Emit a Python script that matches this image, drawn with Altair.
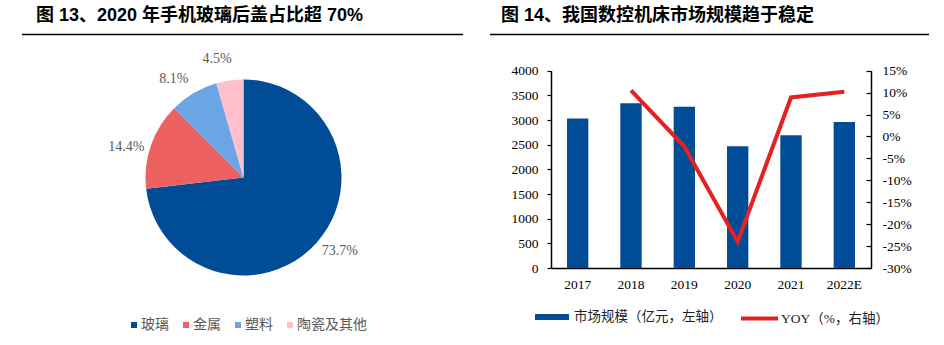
import altair as alt
import pandas as pd

# ---------------- data ----------------
materials = ["玻璃", "金属", "塑料", "陶瓷及其他"]
shares = [73.7, 14.4, 8.1, 4.5]
pie_colors = ["#004C97", "#EE6161", "#6CA5E5", "#FFC0CB"]

years = ["2017", "2018", "2019", "2020", "2021", "2022E"]
market_size = [3030, 3340, 3270, 2470, 2690, 2960]
yoy_years = ["2018", "2019", "2020", "2021", "2022E"]
yoy = [10.5, -2.3, -24.0, 8.9, 10.2]

left_ticks = [0, 500, 1000, 1500, 2000, 2500, 3000, 3500, 4000]
right_ticks = [-30, -25, -20, -15, -10, -5, 0, 5, 10, 15]

title_left = "图 13、2020 年手机玻璃后盖占比超 70%"
title_right = "图 14、我国数控机床市场规模趋于稳定"
bar_name = "市场规模（亿元，左轴）"
line_name = "YOY（%，右轴）"

BLUE = "#004C97"
RED = "#E32222"
SERIF = "Liberation Serif, Noto Sans CJK SC"
TITLE_FONT = "Liberation Sans, Noto Sans CJK SC"

pie_df = pd.DataFrame({"material": materials, "share": shares, "rank": list(range(len(materials)))})
bar_df = pd.DataFrame({"year": years, "market": market_size, "series": [bar_name] * len(years)})
line_df = pd.DataFrame({"year": yoy_years, "yoy": yoy, "series": [line_name] * len(yoy_years)})

# ---------------- pie ----------------
CX, CY = 243.5, 177.5
pie_base = alt.Chart(pie_df).encode(
    theta=alt.Theta("share:Q", stack=True),
    order=alt.Order("rank:Q"),
)
pie = pie_base.mark_arc(outerRadius=98).encode(
    x=alt.value(CX), y=alt.value(CY),
    color=alt.Color(
        "material:N",
        scale=alt.Scale(domain=materials, range=pie_colors),
        legend=alt.Legend(
            orient="none", legendX=124, legendY=318, direction="horizontal", title=None,
            symbolType="square", symbolSize=36, symbolStrokeWidth=0, symbolOffset=3,
            labelFont="Noto Sans CJK SC", labelFontSize=14, labelColor="#595959",
            labelOffset=0, columnPadding=7,
        ),
    ),
)
pie_text = pie_base.mark_text(radius=121, thetaOffset=-0.08, font="Liberation Serif", fontSize=14,
                              color="#595959").encode(
    x=alt.value(CX), y=alt.value(CY), text="label:N"
).transform_calculate(label="format(datum.share, '.1f') + '%'")

# ---------------- bar + line ----------------
X0, X1 = 551, 871
Y0, Y1 = 268, 70.7

xscale = alt.Scale(domain=years, range=[X0, X1], paddingInner=0.6, paddingOuter=0.3)
bars = alt.Chart(bar_df).mark_bar().encode(
    x=alt.X("year:N", sort=years, scale=xscale,
            axis=alt.Axis(orient="bottom", offset=-(345 - Y0), ticks=False, labelPadding=9,
                          labelFont="Liberation Serif", labelFontSize=13.5, labelColor="black",
                          labelAngle=0, domainColor="black", domainWidth=1.5, title=None, grid=False)),
    y=alt.Y("market:Q", scale=alt.Scale(domain=[0, 4000], range=[Y0, Y1], nice=False, zero=True),
            axis=alt.Axis(orient="left", offset=-X0, values=left_ticks, format="d", tickSize=4,
                          tickColor="black", tickWidth=1.2, labelPadding=9, labelFont="Liberation Serif",
                          labelFontSize=13.5, labelColor="black", domainColor="black", domainWidth=1.5,
                          title=None, grid=False)),
    fill=alt.Fill(
        "series:N",
        scale=alt.Scale(domain=[bar_name], range=[BLUE]),
        legend=alt.Legend(
            orient="none", legendX=535, legendY=300, title=None,
            symbolType="M-1,-0.18L1,-0.18L1,0.18L-1,0.18Z", symbolSize=1156, symbolStrokeWidth=0,
            labelFont=SERIF, labelFontSize=13.5, labelColor="#222222", labelOffset=5,
        ),
    ),
)

yscale_r = alt.Scale(domain=[-30, 15], range=[Y0, Y1], nice=False, zero=False)
line = alt.Chart(line_df).mark_line(strokeWidth=4).encode(
    x=alt.X("year:N", sort=years),
    y=alt.Y("yoy:Q", scale=yscale_r,
            axis=alt.Axis(orient="right", offset=-(944 - X1), values=right_ticks, ticks=False,
                          labelExpr="datum.value + '%'", labelPadding=11, labelFont="Liberation Serif",
                          labelFontSize=13.5, labelColor="black", domainColor="black", domainWidth=1.5,
                          title=None, grid=False)),
    stroke=alt.Stroke(
        "series:N",
        scale=alt.Scale(domain=[line_name], range=[RED]),
        legend=alt.Legend(
            orient="none", legendX=739, legendY=298, title=None,
            symbolType="stroke", symbolSize=1369, symbolStrokeWidth=4,
            labelFont=SERIF, labelFontSize=13.5, labelColor="#222222", labelOffset=1,
        ),
    ),
)

# inward ticks of the right axis
rticks = alt.Chart(line_df).mark_line(opacity=0).encode(
    x=alt.X("year:N", sort=years),
    y=alt.Y("yoy:Q", scale=yscale_r,
            axis=alt.Axis(orient="left", offset=-X1, values=right_ticks, labels=False, domain=False,
                          tickSize=5, tickColor="black", tickWidth=1.2, title=None, grid=False)),
)

# ---------------- titles and rules ----------------
t1 = alt.Chart(alt.Data(values=[{"t": title_left}])).mark_text(
    align="left", baseline="middle", font=TITLE_FONT, fontSize=18, fontWeight="bold", color="black"
).encode(x=alt.value(36), y=alt.value(16), text="t:N")
t2 = alt.Chart(alt.Data(values=[{"t": title_right}])).mark_text(
    align="left", baseline="middle", font=TITLE_FONT, fontSize=18, fontWeight="bold", color="black"
).encode(x=alt.value(501), y=alt.value(16), text="t:N")
r1 = alt.Chart(alt.Data(values=[{"a": 1}])).mark_rule(color="black", strokeWidth=1.5).encode(
    x=alt.value(22), x2=alt.value(463), y=alt.value(34.5))
r2 = alt.Chart(alt.Data(values=[{"a": 1}])).mark_rule(color="black", strokeWidth=1.5).encode(
    x=alt.value(490), x2=alt.value(929), y=alt.value(34.5))

chart = alt.layer(pie, pie_text, bars, line, rticks, t1, t2, r1, r2).resolve_scale(
    y="independent"
).properties(
    width=944, height=345, padding=0, autosize=alt.AutoSizeParams(type="none")
).configure_view(stroke=None).configure_axis(grid=False)

chart.save("out.html", embed_options={"renderer": "svg", "actions": False})
